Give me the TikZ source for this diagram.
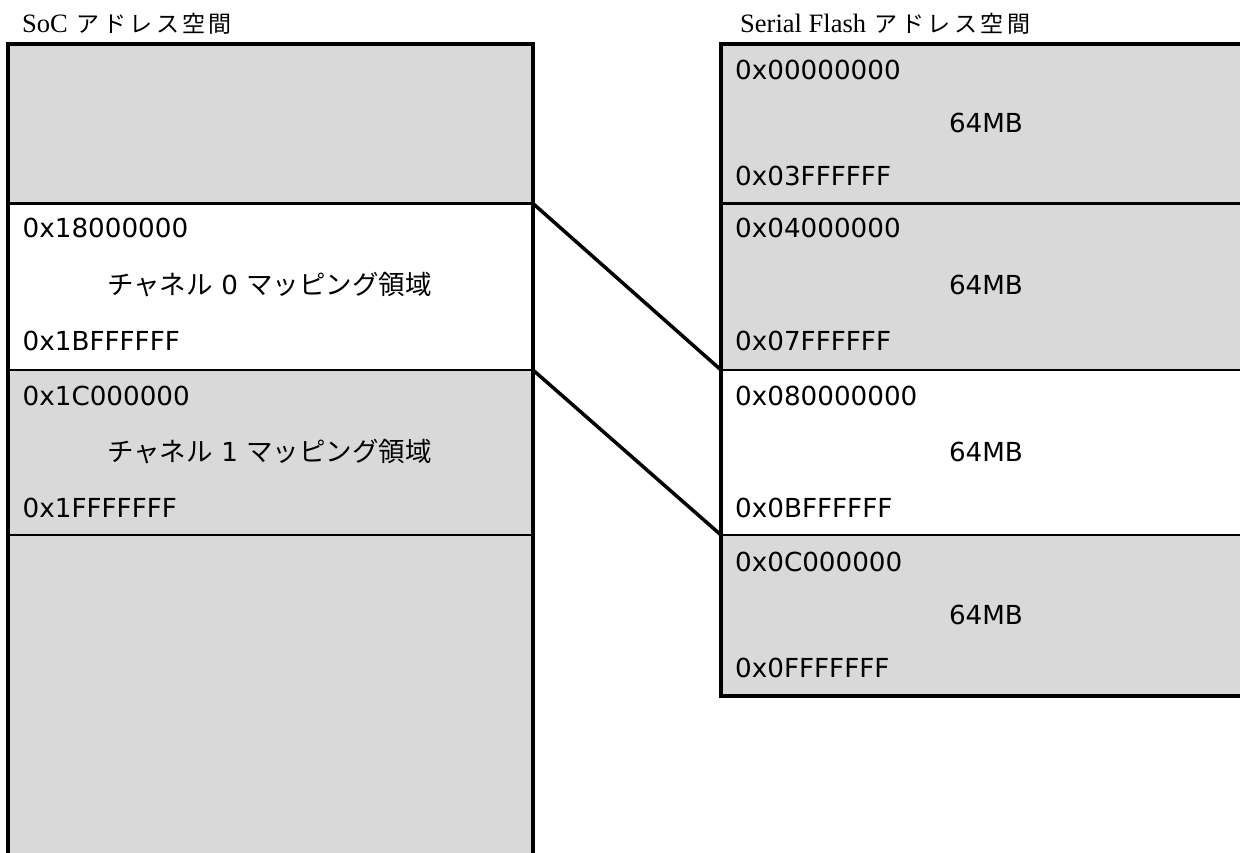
\documentclass[tikz,border=0pt]{standalone}
\usepackage{fontspec}
\setmainfont{DejaVu Sans}
\newfontfamily\jpfont{Noto Sans CJK JP}
\newfontfamily\jptitle[LetterSpace=15]{Noto Sans CJK JP}
\newfontfamily\sertitle{Liberation Serif}
\definecolor{secgrey}{HTML}{D9D9D9}
\newcommand{\jpbody}[1]{{\fontsize{26.5}{30}\jpfont #1}}
\begin{document}
\begin{tikzpicture}[x=1pt,y=-1pt,
  sec/.style={rectangle, inner sep=0pt, outer sep=0pt, draw=none, anchor=north west},
  leftsec/.style={sec, minimum width=525pt},
  rightsec/.style={sec, minimum width=539pt},
  outerline/.style={line width=4pt, line join=miter, line cap=rect},
  divline/.style={line width=2.8pt},
  connline/.style={line width=3.5pt},
  addr/.style={inner sep=0pt, anchor=base west, font=\fontsize{26.2}{30}\selectfont},
  ctr/.style={inner sep=0pt, anchor=base, font=\fontsize{26.2}{30}\selectfont},
  ttl/.style={inner sep=0pt, anchor=base west, font=\fontsize{26.5}{30}\selectfont}
]
\useasboundingbox (0,0) rectangle (1240,852);
\clip (0,0) rectangle (1240,852);
\fill[white] (0,0) rectangle (1240,852);

% titles
\node[ttl] (soctitle) at (22,32) {\sertitle SoC\,\,{\fontsize{23}{30}\jptitle アドレス空間}};
\node[ttl] (sftitle) at (740,32) {\sertitle Serial Flash\,\,{\fontsize{23}{30}\jptitle アドレス空間}};

% left (SoC) sections
\node[leftsec, fill=secgrey, minimum height=159.5pt] (soctop) at (8,44) {};
\node[leftsec, fill=white, minimum height=166.5pt] (ch0) at (8,203.5) {};
\node[leftsec, fill=secgrey, minimum height=165pt] (ch1) at (8,370) {};
\node[leftsec, fill=secgrey, minimum height=345pt] (socbot) at (8,535) {};

% right (Serial Flash) sections
\node[rightsec, fill=secgrey, minimum height=159.5pt] (f0) at (721,44) {};
\node[rightsec, fill=secgrey, minimum height=166.5pt] (f1) at (721,203.5) {};
\node[rightsec, fill=white, minimum height=165pt] (f2) at (721,370) {};
\node[rightsec, fill=secgrey, minimum height=160.5pt] (f3) at (721,535) {};

% dividers
\draw[divline] (ch0.north west) -- (ch0.north east);
\draw[divline] (ch1.north west) -- (ch1.north east);
\draw[divline] (socbot.north west) -- (socbot.north east);
\draw[divline] (f1.north west) -- (f1.north east);
\draw[divline] (f2.north west) -- (f2.north east);
\draw[divline] (f3.north west) -- (f3.north east);

% connectors
\draw[connline] (ch0.north east) -- (f1.south west);
\draw[connline] (ch1.north east) -- (f2.south west);

% outer borders
\draw[outerline] (socbot.south west) -- (soctop.north west) -- (soctop.north east) -- (socbot.south east);
\draw[outerline] (f0.north east) -- (f0.north west) -- (f3.south west) -- (f3.south east);

% left texts
\node[addr] (a18) at (22.5,237) {0x18000000};
\node[ctr] (ch0lbl) at (269.5,294) {\jpbody{チャネル} 0 \jpbody{マッピング領域}};
\node[addr] (a1B) at (22.5,350) {0x1BFFFFFF};
\node[addr] (a1C) at (22.5,405) {0x1C000000};
\node[ctr] (ch1lbl) at (269.5,461) {\jpbody{チャネル} 1 \jpbody{マッピング領域}};
\node[addr] (a1F) at (22.5,517) {0x1FFFFFFF};

% right texts
\node[addr] (f0s) at (735,79) {0x00000000};
\node[ctr] (f0m) at (986,132) {64MB};
\node[addr] (f0e) at (735,185) {0x03FFFFFF};
\node[addr] (f1s) at (735,237) {0x04000000};
\node[ctr] (f1m) at (986,294) {64MB};
\node[addr] (f1e) at (735,350) {0x07FFFFFF};
\node[addr] (f2s) at (735,405) {0x080000000};
\node[ctr] (f2m) at (986,461) {64MB};
\node[addr] (f2e) at (735,517) {0x0BFFFFFF};
\node[addr] (f3s) at (735,571) {0x0C000000};
\node[ctr] (f3m) at (986,624) {64MB};
\node[addr] (f3e) at (735,677) {0x0FFFFFFF};
\end{tikzpicture}
\end{document}
